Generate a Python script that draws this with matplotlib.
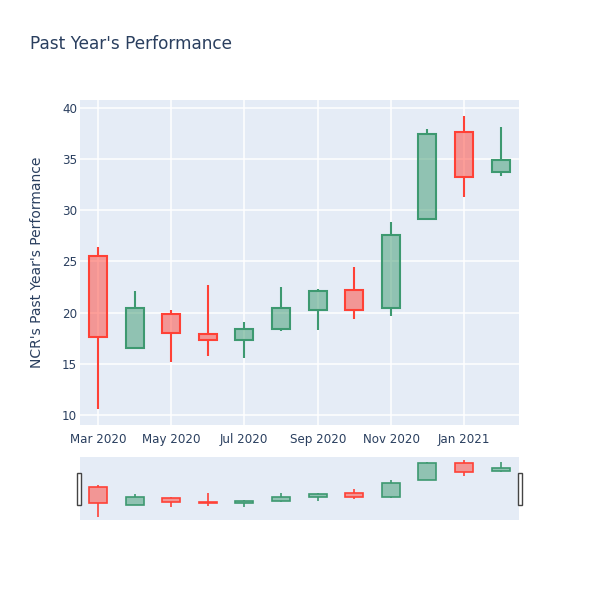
import matplotlib
matplotlib.use('Agg')
import matplotlib.pyplot as plt
import matplotlib.dates as mdates
from matplotlib.patches import Rectangle
import numpy as np
import datetime as dt

# monthly candles, Mar 2020 .. Feb 2021
months = ['2020-03-01', '2020-04-01', '2020-05-01', '2020-06-01', '2020-07-01', '2020-08-01',
          '2020-09-01', '2020-10-01', '2020-11-01', '2020-12-01', '2021-01-01', '2021-02-01']
opens = [25.5, 16.5, 19.85, 17.95, 17.3, 18.4, 20.3, 22.25, 20.45, 29.2, 37.65, 33.8]
closes = [17.65, 20.45, 18.0, 17.3, 18.35, 20.4, 22.1, 20.3, 27.6, 37.45, 33.3, 34.9]
highs = [26.4, 22.15, 20.25, 22.7, 19.05, 22.5, 22.35, 24.45, 28.9, 37.95, 39.2, 38.2]
lows = [10.55, 16.5, 15.15, 15.8, 15.6, 18.15, 18.3, 19.4, 19.7, 29.05, 31.3, 33.35]

title = "Past Year's Performance"
ylabel = "NCR's Past Year's Performance"

INC = '#3D9970'
DEC = '#FF4136'
BG = '#E5ECF6'
TXT = '#2a3f5f'

dates = [dt.datetime.strptime(m, '%Y-%m-%d') for m in months]
x = mdates.date2num(dates)
o = np.array(opens)
c = np.array(closes)
h = np.array(highs)
l = np.array(lows)
up = c >= o
cols = [INC if u else DEC for u in up]

xmin = mdates.date2num(dt.datetime(2020, 2, 15))
xmax = mdates.date2num(dt.datetime(2021, 2, 16))


def candles(ax, lw, width):
    lo_b = np.minimum(o, c)
    hi_b = np.maximum(o, c)
    ax.vlines(x, l, lo_b, colors=cols, lw=lw, zorder=2)
    ax.vlines(x, hi_b, h, colors=cols, lw=lw, zorder=2)
    for xi, a, b, col in zip(x, lo_b, hi_b, cols):
        ax.add_patch(Rectangle((xi - width / 2, a), width, b - a,
                               facecolor=col, alpha=0.5, edgecolor='none', zorder=3))
        ax.add_patch(Rectangle((xi - width / 2, a), width, b - a,
                               facecolor='none', edgecolor=col, lw=lw, zorder=4))


fig = plt.figure(figsize=(6, 6), dpi=100)
fig.text(30 / 600, 1 - 44 / 600, title, fontsize=12.2, color=TXT, va='center', ha='left')

ax = fig.add_axes([80 / 600, 1 - 425 / 600, 439 / 600, 325 / 600])
ax.set_facecolor(BG)
for s in ax.spines.values():
    s.set_visible(False)
candles(ax, 1.5, 14.5)
ax.set_xlim(xmin, xmax)
ax.set_ylim(9.0, 40.8)
ax.set_yticks([10, 15, 20, 25, 30, 35, 40])
ax.xaxis.set_major_locator(mdates.MonthLocator(bymonth=[1, 3, 5, 7, 9, 11]))
ax.xaxis.set_major_formatter(mdates.DateFormatter('%b %Y'))
ax.grid(True, color='white', lw=1.1)
ax.set_axisbelow(True)
ax.tick_params(axis='both', length=0, labelsize=8.6, labelcolor=TXT)
ax.tick_params(axis='x', pad=6)
ax.tick_params(axis='y', pad=2)
ax.set_ylabel(ylabel, fontsize=10, color=TXT, labelpad=13)

# range slider
rs = fig.add_axes([80 / 600, 1 - 520 / 600, 439 / 600, 63 / 600])
rs.set_facecolor(BG)
for s in rs.spines.values():
    s.set_visible(False)
candles(rs, 1.2, 14.5)
rs.set_xlim(xmin, xmax)
rs.set_ylim(8.8, 40.7)
rs.set_xticks([])
rs.set_yticks([])

for hx in (77, 518):
    fig.patches.append(Rectangle((hx / 600, 1 - 505 / 600), 4 / 600, 32 / 600,
                                 transform=fig.transFigure, facecolor='white',
                                 edgecolor='#444444', lw=1))

fig.savefig('out.png', dpi=100)
